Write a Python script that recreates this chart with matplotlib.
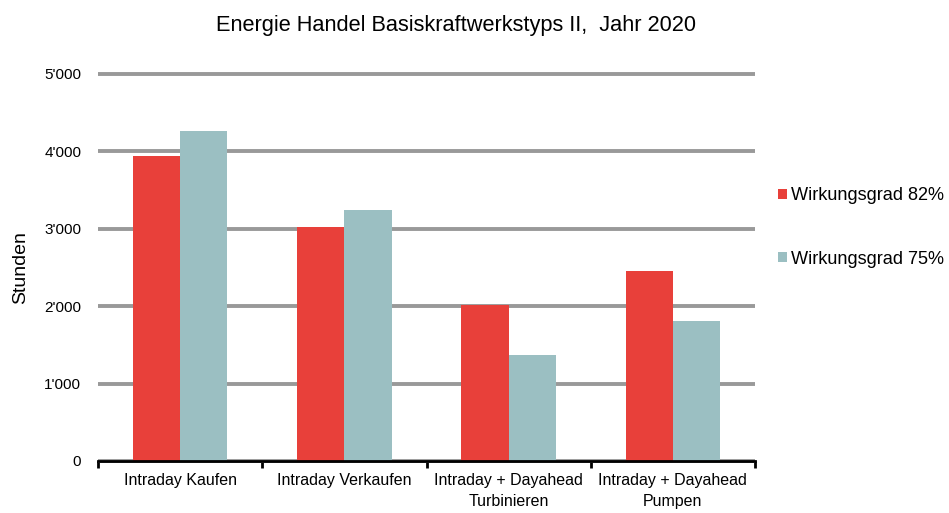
import matplotlib
matplotlib.use("Agg")
import matplotlib.pyplot as plt
import numpy as np
from matplotlib.ticker import FuncFormatter

plt.rcParams['font.family'] = ['Liberation Sans', 'DejaVu Sans']

categories = ["Intraday Kaufen", "Intraday Verkaufen", "Intraday + Dayahead\nTurbinieren", "Intraday + Dayahead\nPumpen"]
series_names = ["Wirkungsgrad 82%", "Wirkungsgrad 75%"]
wg82 = [3940, 3020, 2010, 2450]
wg75 = [4270, 3240, 1370, 1815]
colors = ["#E8403A", "#9BBFC2"]

fig = plt.figure(figsize=(9.49, 5.13), dpi=100)
ax = fig.add_axes([98/949, 52/513, (755-98)/949, (461-74)/513])

x = np.arange(len(categories))
w = 0.287
ax.bar(x - w/2, wg82, width=w, color=colors[0], label=series_names[0], zorder=3)
ax.bar(x + w/2, wg75, width=w, color=colors[1], label=series_names[1], zorder=3)

ax.set_xlim(-0.5, len(categories) - 0.5)
ax.set_ylim(0, 5000)
ax.set_yticks(np.arange(0, 5001, 1000))
ax.yaxis.set_major_formatter(FuncFormatter(lambda v, p: "0" if v == 0 else f"{int(v):,}".replace(",", "'")))
ax.grid(axis='y', color='#999999', linewidth=2.8, zorder=0, solid_capstyle='butt')
for gl in ax.get_ygridlines():
    gl.set_clip_on(False)
    gl.set_solid_capstyle('butt')
ax.tick_params(axis='y', length=0, labelsize=11, pad=12)

ax.set_xticks(x)
ax.set_xticklabels(categories, fontsize=11.5, linespacing=1.45)
ax.set_xticks(np.arange(-0.5, len(categories), 1), minor=True)
ax.tick_params(axis='x', which='major', length=0, pad=9)
ax.tick_params(axis='x', which='minor', length=5, width=2, color='black', direction='out')

for s in ['top', 'right', 'left']:
    ax.spines[s].set_visible(False)
ax.spines['bottom'].set_linewidth(2)
ax.spines['bottom'].set_zorder(4)

ax.set_ylabel("Stunden", fontsize=14)
ax.yaxis.set_label_coords(-0.105, 0.5)

fig.text(456/949, 1 - 26/513, "Energie Handel Basiskraftwerkstyps II,  Jahr 2020", ha='center', va='center', fontsize=15.7)

leg = fig.legend(loc='upper left', bbox_to_anchor=(771/949, 1 - 180/513), frameon=False,
                 fontsize=13.1, handlelength=0.5, handleheight=0.5, handletextpad=0.2,
                 labelspacing=2.55, borderaxespad=0)

fig.savefig("out.png", dpi=100)
